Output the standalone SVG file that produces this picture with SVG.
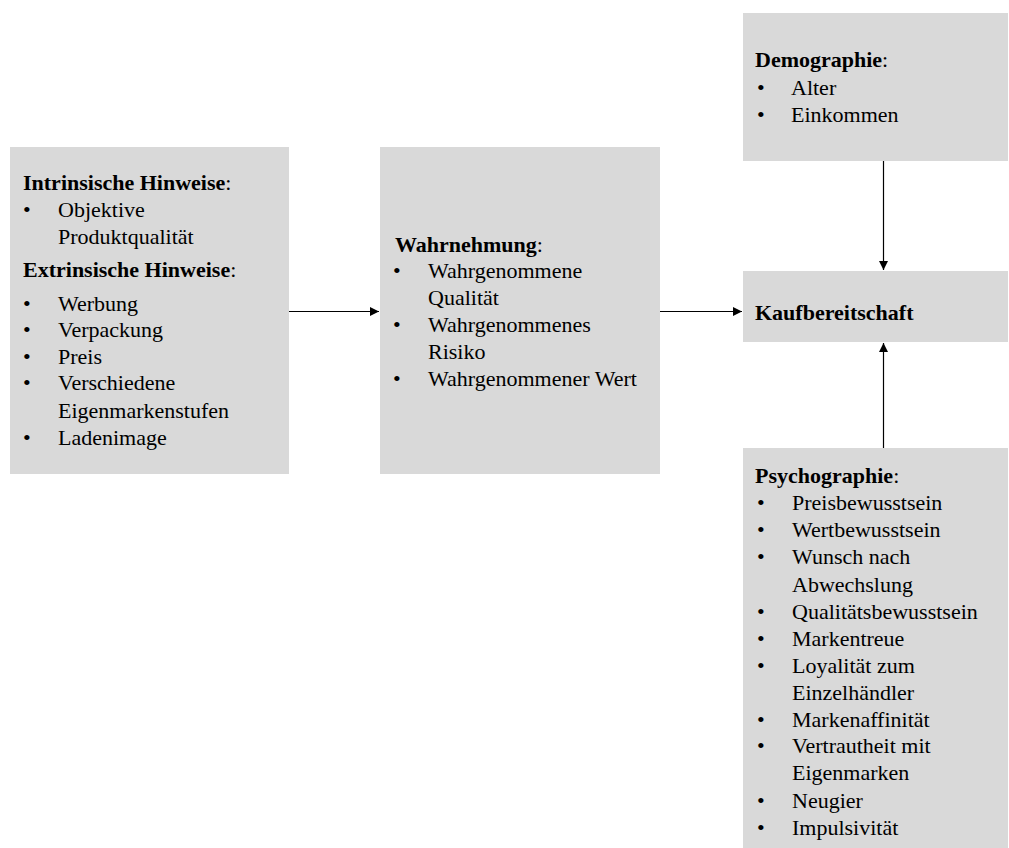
<svg xmlns="http://www.w3.org/2000/svg" width="1009" height="848" viewBox="0 0 1009 848">
<style>
.box{fill:#d9d9d9}
text{font-family:"Liberation Serif","Times New Roman",serif;font-size:22px;fill:#000}
.b{font-weight:bold}
.con{stroke:#000;stroke-width:1.2;fill:none}
</style>
<defs>
<marker id="ah" viewBox="0 0 10 10" refX="10" refY="5" markerWidth="9" markerHeight="9" markerUnits="userSpaceOnUse" orient="auto">
<path d="M0,0 L10,5 L0,10 Z" fill="#000"/>
</marker>
</defs>
<rect width="1009" height="848" fill="#fff"/>
<g id="connectors">
<line class="con" x1="289" y1="311.5" x2="379" y2="311.5" marker-end="url(#ah)"/>
<line class="con" x1="660" y1="311.5" x2="742" y2="311.5" marker-end="url(#ah)"/>
<line class="con" x1="883.5" y1="161" x2="883.5" y2="270" marker-end="url(#ah)"/>
<line class="con" x1="883.5" y1="448" x2="883.5" y2="343" marker-end="url(#ah)"/>
</g>
<g id="hinweise">
<rect class="box" x="10" y="147" width="279" height="327"/>
<text x="23" y="190"><tspan class="b">Intrinsische Hinweise</tspan>:</text>
<text x="23" y="217">•</text><text x="58" y="217">Objektive</text>
<text x="58" y="244">Produktqualität</text>
<text x="23" y="277"><tspan class="b">Extrinsische Hinweise</tspan>:</text>
<text x="23" y="311">•</text><text x="58" y="311">Werbung</text>
<text x="23" y="337">•</text><text x="58" y="337">Verpackung</text>
<text x="23" y="364">•</text><text x="58" y="364">Preis</text>
<text x="23" y="390">•</text><text x="58" y="390">Verschiedene</text>
<text x="58" y="418">Eigenmarkenstufen</text>
<text x="23" y="445">•</text><text x="58" y="445">Ladenimage</text>
</g>
<g id="wahrnehmung">
<rect class="box" x="380" y="147" width="280" height="327"/>
<text x="395" y="252"><tspan class="b">Wahrnehmung</tspan>:</text>
<text x="393" y="278">•</text><text x="428" y="278">Wahrgenommene</text>
<text x="428" y="305">Qualität</text>
<text x="393" y="332">•</text><text x="428" y="332">Wahrgenommenes</text>
<text x="428" y="359">Risiko</text>
<text x="393" y="386">•</text><text x="428" y="386">Wahrgenommener Wert</text>
</g>
<g id="demographie">
<rect class="box" x="743" y="13" width="265" height="148"/>
<text x="755" y="67"><tspan class="b">Demographie</tspan>:</text>
<text x="757" y="95">•</text><text x="791" y="95">Alter</text>
<text x="757" y="122">•</text><text x="791" y="122">Einkommen</text>
</g>
<g id="kaufbereitschaft">
<rect class="box" x="743" y="271" width="265" height="71"/>
<text x="755" y="320" class="b">Kaufbereitschaft</text>
</g>
<g id="psychographie">
<rect class="box" x="743" y="448" width="265" height="400"/>
<text x="755" y="483"><tspan class="b">Psychographie</tspan>:</text>
<text x="757" y="510">•</text><text x="792" y="510">Preisbewusstsein</text>
<text x="757" y="537">•</text><text x="792" y="537">Wertbewusstsein</text>
<text x="757" y="564">•</text><text x="792" y="564">Wunsch nach</text>
<text x="792" y="592">Abwechslung</text>
<text x="757" y="619">•</text><text x="792" y="619">Qualitätsbewusstsein</text>
<text x="757" y="646">•</text><text x="792" y="646">Markentreue</text>
<text x="757" y="673">•</text><text x="792" y="673">Loyalität zum</text>
<text x="792" y="700">Einzelhändler</text>
<text x="757" y="727">•</text><text x="792" y="727">Markenaffinität</text>
<text x="757" y="753">•</text><text x="792" y="753">Vertrautheit mit</text>
<text x="792" y="780">Eigenmarken</text>
<text x="757" y="808">•</text><text x="792" y="808">Neugier</text>
<text x="757" y="835">•</text><text x="792" y="835">Impulsivität</text>
</g>
</svg>
